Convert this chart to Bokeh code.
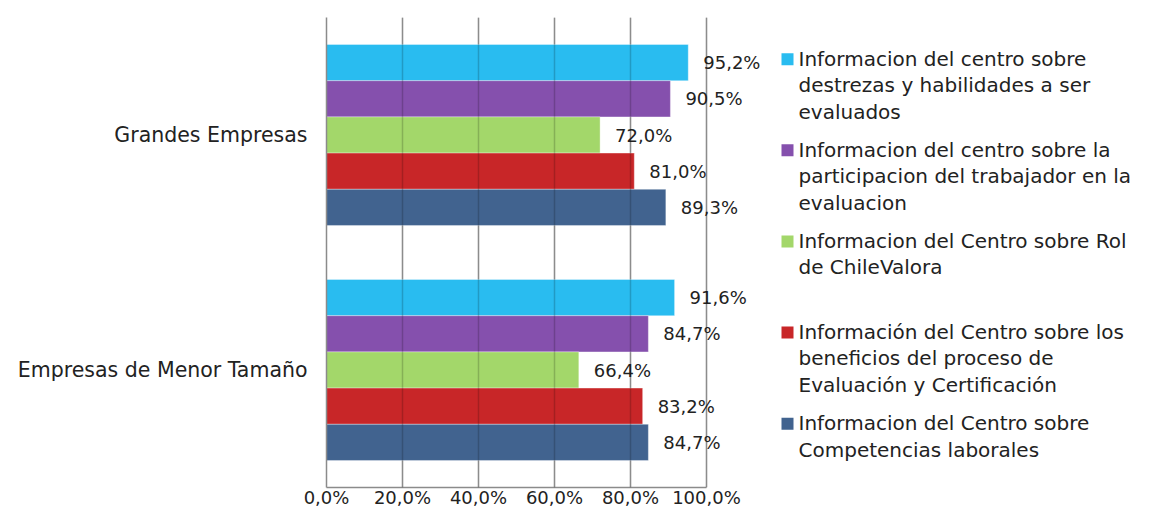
from bokeh.plotting import figure
from bokeh.models import Range1d, FixedTicker, Grid, ColumnDataSource
from bokeh.core.properties import value
from bokeh.embed import file_html
from bokeh.resources import INLINE

# ---------------- data ----------------
categories = ["Grandes Empresas", "Empresas de Menor Tamaño"]

series_names = [
    "Informacion del centro sobre\ndestrezas y habilidades a ser\nevaluados",
    "Informacion del centro sobre la\nparticipacion del trabajador en la\nevaluacion",
    "Informacion del Centro sobre Rol\nde ChileValora",
    "Información del Centro sobre los\nbeneficios del proceso de\nEvaluación y Certificación",
    "Informacion del Centro sobre\nCompetencias laborales",
]
series_colors = ["#29BCF0", "#8550AD", "#A3D76A", "#C82628", "#41638F"]

destrezas = [95.2, 91.6]
participacion = [90.5, 84.7]
rol = [72.0, 66.4]
beneficios = [81.0, 83.2]
competencias = [89.3, 84.7]
series_values = [destrezas, participacion, rol, beneficios, competencias]

x_ticks = [0, 20, 40, 60, 80, 100]
x_tick_labels = ["0,0%", "20,0%", "40,0%", "60,0%", "80,0%", "100,0%"]

# ---------------- layout constants ----------------
FONT = "DejaVu Sans"
W, H = 1138, 510
LEFT, TOP = 326, 17
FRAME_H = 473
PX_PER_UNIT = 3.8          # 380 px for 100 %
X_END = (W - LEFT) / PX_PER_UNIT
CAT_POS = [1.5, 0.5]
BAR_H = 0.154
OFFSETS = [2 * BAR_H, BAR_H, 0.0, -BAR_H, -2 * BAR_H]


def px_x(px):
    return (px - LEFT) / PX_PER_UNIT


def px_y(py):
    return 2 - (py - TOP) / (FRAME_H / 2)


p = figure(width=W, height=H, output_backend="svg", toolbar_location=None,
           x_range=Range1d(0, X_END), y_range=Range1d(0, 2),
           min_border_left=LEFT, min_border_right=0,
           min_border_top=TOP, min_border_bottom=0)
p.outline_line_color = None
p.background_fill_color = "white"
p.border_fill_color = "white"

# grids: gray under bars + a faint dark line over bars
p.ygrid.visible = False
p.xgrid.ticker = FixedTicker(ticks=x_ticks)
p.xgrid.grid_line_color = "#ababab"
p.xgrid.grid_line_width = 1.5
p.add_layout(Grid(dimension=0, ticker=FixedTicker(ticks=x_ticks),
                  grid_line_color="black", grid_line_alpha=0.18,
                  grid_line_width=1.5, level="overlay"))

# x axis
p.xaxis.ticker = FixedTicker(ticks=x_ticks)
p.xaxis.bounds = (0, 100)
p.xaxis.major_label_overrides = {t: l for t, l in zip(x_ticks, x_tick_labels)}
p.xaxis.axis_line_color = "#8b8b8b"
p.xaxis.axis_line_width = 1.5
p.xaxis.major_tick_out = 0
p.xaxis.major_tick_in = 0
p.xaxis.minor_tick_line_color = None
p.xaxis.major_label_standoff = -1
p.xaxis.major_label_text_font = FONT
p.xaxis.major_label_text_font_size = "18px"
p.xaxis.major_label_text_color = "#222222"

# y axis (categories)
p.yaxis.ticker = FixedTicker(ticks=CAT_POS)
p.yaxis.bounds = (0, 2)
p.yaxis.major_label_overrides = {pos: c for pos, c in zip(CAT_POS, categories)}
p.yaxis.axis_line_color = "#8b8b8b"
p.yaxis.axis_line_width = 1.5
p.yaxis.major_tick_out = 0
p.yaxis.major_tick_in = 0
p.yaxis.minor_tick_line_color = None
p.yaxis.major_label_standoff = 19
p.yaxis.major_label_text_font = FONT
p.yaxis.major_label_text_font_size = "20.5px"
p.yaxis.major_label_text_color = "#222222"

# bars + value labels
for vals, color, off in zip(series_values, series_colors, OFFSETS):
    src = ColumnDataSource(dict(
        y=[c + off for c in CAT_POS],
        right=vals,
        label=[f"{v:.1f}%".replace(".", ",") for v in vals],
    ))
    p.hbar(y="y", left=0, right="right", height=BAR_H, source=src,
           fill_color=color, line_color="white", line_alpha=0.35, line_width=1)
    p.text(x="right", y="y", text="label", source=src, x_offset=15,
           text_font=value(FONT), text_font_size=value("18px"),
           text_color="#222222", text_baseline="middle", text_align="left")

# legend (drawn manually)
LEG_TEXT_X = 798
LEG_SQ_X = 787
LEG_Y0 = 58.3
LEG_STEP = 91.7
LEG_LINE = 26.7

tx, ty, tt = [], [], []
sx, sy = [], []
for i, name in enumerate(series_names):
    y0 = LEG_Y0 + i * LEG_STEP
    sx.append(px_x(LEG_SQ_X))
    sy.append(px_y(y0 + 0.7))
    for j, line in enumerate(name.split("\n")):
        tx.append(px_x(LEG_TEXT_X))
        ty.append(px_y(y0 + j * LEG_LINE))
        tt.append(line)

p.scatter(x=sx, y=sy, marker="square", size=12, fill_color=series_colors,
          line_color=None)
p.text(x=tx, y=ty, text=tt, text_font=value(FONT),
       text_font_size=value("20px"), text_color="#222222",
       text_baseline="middle", text_align="left")

open("out.html", "w").write(file_html(p, INLINE))
